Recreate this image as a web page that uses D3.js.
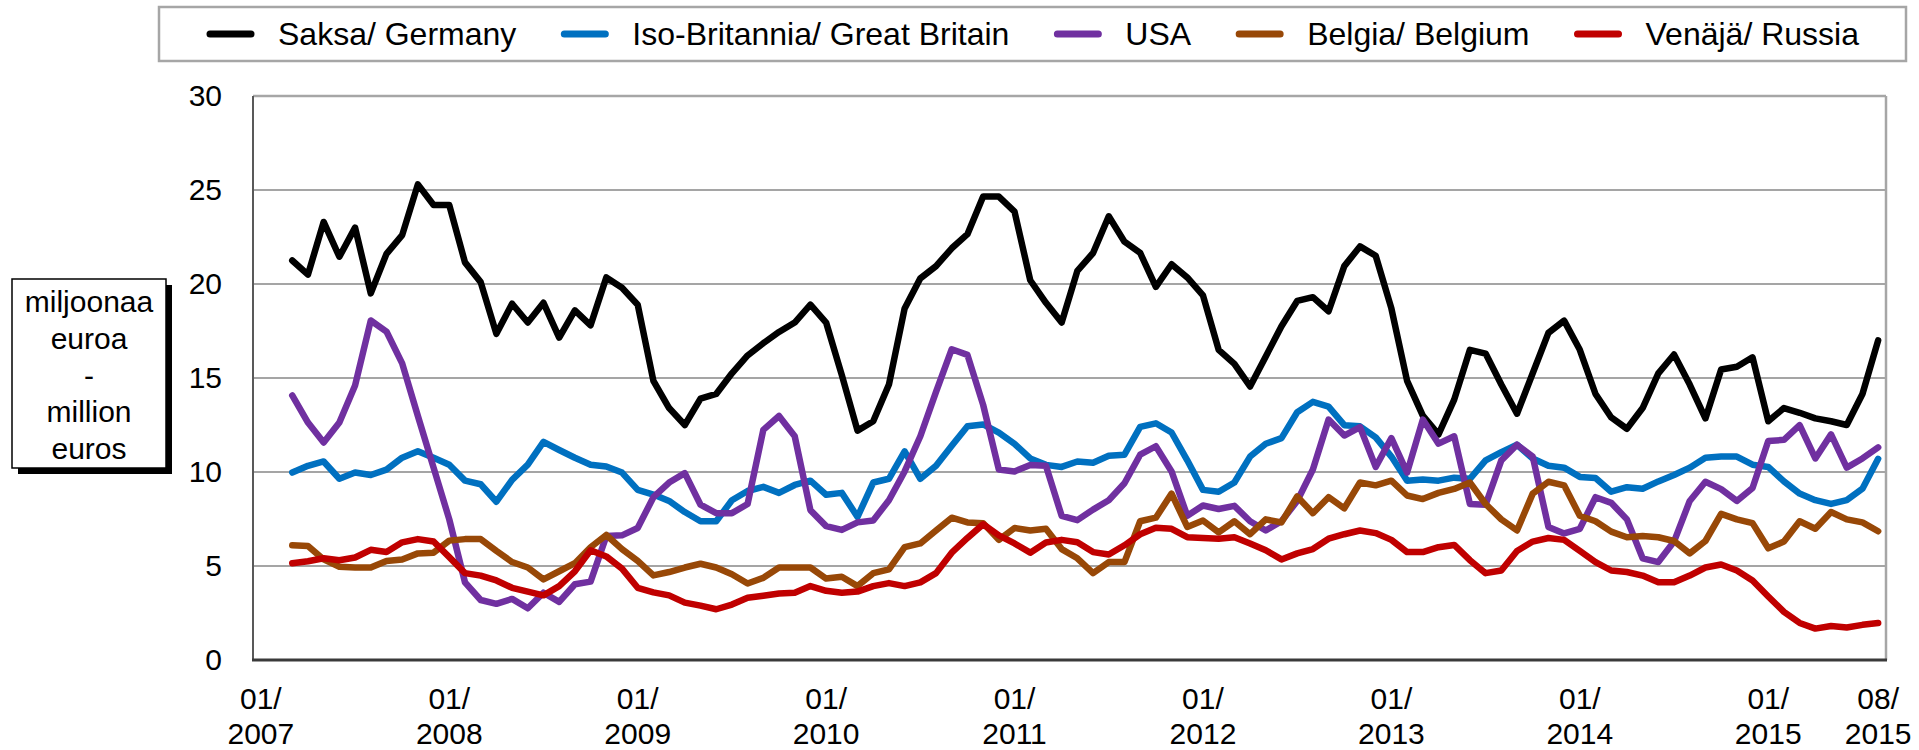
<!DOCTYPE html>
<html>
<head>
<meta charset="utf-8">
<script src="https://cdn.jsdelivr.net/npm/d3@7"></script>
<style>
  body { margin: 0; background: #fff; }
  svg text { font-family: Arial, "Liberation Sans", sans-serif; fill: #000; }
</style>
</head>
<body>
<svg id="chart" width="1919" height="750"></svg>
<script>
// monthly categories 01/2007 .. 08/2015, data begins 03/2007
const firstYear = 2007;
const lastYear = 2015;
const lastMonth = 8;
const seriesStart = "03/2007";

const xTickLabels = ["01/2007", "01/2008", "01/2009", "01/2010", "01/2011",
  "01/2012", "01/2013", "01/2014", "01/2015", "08/2015"];
const yTicks = [0, 5, 10, 15, 20, 25, 30];
const yLabelLines = ["miljoonaa", "euroa", "-", "million", "euros"];

const seriesNames = ["Saksa/ Germany", "Iso-Britannia/ Great Britain", "USA",
  "Belgia/ Belgium", "Venäjä/ Russia"];
const seriesColors = ["#000000", "#0070C0", "#7030A0", "#984807", "#C00000"];

const germany = [21.25, 20.5, 23.3, 21.45, 23.0, 19.5, 21.6, 22.6, 25.3, 24.2,
  24.2, 21.15, 20.1, 17.35, 18.95, 17.95, 19.0, 17.15, 18.6, 17.8,
  20.35, 19.8, 18.9, 14.85, 13.4, 12.5, 13.9, 14.15, 15.25, 16.2,
  16.85, 17.45, 17.95, 18.9, 17.95, 15.15, 12.2, 12.7, 14.65, 18.7,
  20.3, 20.95, 21.9, 22.65, 24.65, 24.65, 23.85, 20.2, 19.0, 17.95,
  20.7, 21.65, 23.6, 22.25, 21.65, 19.85, 21.05, 20.35, 19.4, 16.5,
  15.75, 14.55, 16.15, 17.75, 19.1, 19.3, 18.55, 20.95, 22.0, 21.5,
  18.7, 14.85, 13.0, 12.0, 13.85, 16.5, 16.3, 14.65, 13.1, 15.25,
  17.4, 18.05, 16.5, 14.15, 12.9, 12.3, 13.4, 15.25, 16.25, 14.65,
  12.85, 15.45, 15.6, 16.1, 12.7, 13.4, 13.15, 12.85, 12.7, 12.5,
  14.15, 17.0];

const britain = [9.97, 10.33, 10.56, 9.64, 9.97, 9.84, 10.13, 10.76, 11.1, 10.76,
  10.39, 9.54, 9.35, 8.42, 9.58, 10.39, 11.6, 11.17, 10.76, 10.39,
  10.29, 9.97, 9.05, 8.8, 8.46, 7.87, 7.38, 7.38, 8.5, 8.99,
  9.21, 8.89, 9.31, 9.54, 8.79, 8.89, 7.61, 9.44, 9.64, 11.1,
  9.64, 10.33, 11.4, 12.43, 12.53, 12.1, 11.5, 10.72, 10.38, 10.27,
  10.56, 10.49, 10.86, 10.92, 12.4, 12.59, 12.1, 10.62, 9.05, 8.95,
  9.44, 10.82, 11.5, 11.8, 13.18, 13.73, 13.48, 12.49, 12.43, 11.84,
  10.82, 9.54, 9.6, 9.54, 9.7, 9.64, 10.62, 11.06, 11.45, 10.72,
  10.33, 10.23, 9.74, 9.68, 8.95, 9.19, 9.11, 9.5, 9.84, 10.23,
  10.76, 10.82, 10.82, 10.39, 10.27, 9.5, 8.85, 8.5, 8.3, 8.5,
  9.11, 10.7];

const usa = [14.07, 12.63, 11.57, 12.63, 14.6, 18.06, 17.47, 15.78, 12.98, 10.23,
  7.48, 4.13, 3.19, 2.99, 3.25, 2.75, 3.58, 3.09, 4.03, 4.17,
  6.59, 6.63, 7.02, 8.66, 9.44, 9.94, 8.26, 7.81, 7.81, 8.3,
  12.24, 12.98, 11.9, 7.97, 7.12, 6.92, 7.32, 7.42, 8.5, 10.03,
  11.9, 14.26, 16.53, 16.23, 13.57, 10.13, 10.03, 10.37, 10.33, 7.67,
  7.44, 8.0, 8.5, 9.4, 10.92, 11.37, 10.03, 7.67, 8.22, 8.03,
  8.2, 7.38, 6.89, 7.38, 8.46, 10.13, 12.79, 11.94, 12.39, 10.27,
  11.8, 9.97, 12.79, 11.51, 11.9, 8.3, 8.26, 10.62, 11.45, 10.82,
  7.08, 6.73, 6.98, 8.66, 8.36, 7.48, 5.41, 5.21, 6.3, 8.46,
  9.48, 9.09, 8.46, 9.15, 11.65, 11.71, 12.49, 10.72, 12.0, 10.23,
  10.72, 11.31];

const belgium = [6.1, 6.06, 5.35, 4.96, 4.92, 4.92, 5.27, 5.35, 5.67, 5.71,
  6.35, 6.43, 6.43, 5.8, 5.21, 4.92, 4.29, 4.72, 5.15, 6.0,
  6.65, 5.9, 5.27, 4.5, 4.68, 4.92, 5.12, 4.92, 4.56, 4.07,
  4.37, 4.92, 4.92, 4.92, 4.33, 4.43, 3.93, 4.62, 4.82, 6.0,
  6.2, 6.89, 7.57, 7.32, 7.28, 6.39, 7.02, 6.89, 6.98, 5.9,
  5.41, 4.62, 5.21, 5.21, 7.38, 7.57, 8.85, 7.08, 7.42, 6.79,
  7.38, 6.69, 7.48, 7.32, 8.7, 7.81, 8.66, 8.07, 9.44, 9.29,
  9.54, 8.75, 8.56, 8.89, 9.1, 9.44, 8.3, 7.48, 6.89, 8.85,
  9.48, 9.29, 7.67, 7.38, 6.83, 6.53, 6.59, 6.53, 6.33, 5.67,
  6.33, 7.77, 7.48, 7.28, 5.94, 6.3, 7.38, 6.98, 7.87, 7.48,
  7.32, 6.85];

const russia = [5.15, 5.25, 5.41, 5.31, 5.45, 5.86, 5.74, 6.26, 6.43, 6.3,
  5.47, 4.62, 4.49, 4.23, 3.84, 3.64, 3.44, 3.93, 4.72, 5.84,
  5.51, 4.86, 3.84, 3.6, 3.44, 3.05, 2.89, 2.7, 2.95, 3.31,
  3.42, 3.54, 3.58, 3.93, 3.68, 3.58, 3.64, 3.93, 4.09, 3.93,
  4.13, 4.62, 5.71, 6.49, 7.22, 6.63, 6.2, 5.71, 6.25, 6.39,
  6.26, 5.74, 5.61, 6.1, 6.69, 7.04, 6.98, 6.53, 6.49, 6.45,
  6.53, 6.2, 5.84, 5.35, 5.67, 5.9, 6.45, 6.69, 6.89, 6.75,
  6.39, 5.74, 5.74, 6.0, 6.12, 5.31, 4.62, 4.76, 5.8, 6.3,
  6.49, 6.39, 5.8, 5.21, 4.76, 4.68, 4.49, 4.13, 4.13, 4.49,
  4.92, 5.08, 4.76, 4.23, 3.38, 2.56, 1.97, 1.67, 1.81, 1.73,
  1.87, 1.97];

const seriesValues = [germany, britain, usa, belgium, russia];

function monthly_categories() {
  let out = [];
  for (let yr = firstYear; yr <= lastYear; yr++) {
    for (let m = 1; m <= 12; m++) {
      if (yr === lastYear && m > lastMonth) break;
      out.push(String(m).padStart(2, "0") + "/" + yr);
    }
  }
  return out;
}

function line_chart(svg) {
  let months = monthly_categories();
  let left = 253, right = 1886, top = 96, bottom = 660;

  let xScale = d3.scaleBand().domain(months).range([left, right]).padding(0);
  let yScale = d3.scaleLinear().domain([0, 30]).range([bottom, top]);
  let half = xScale.bandwidth() / 2;
  let startIdx = months.indexOf(seriesStart);

  // grid lines
  svg.append("g")
    .selectAll("line")
    .data(yTicks.filter(d => d > 0))
    .enter()
    .append("line")
    .attr("x1", left)
    .attr("x2", right)
    .attr("y1", d => yScale(d))
    .attr("y2", d => yScale(d))
    .attr("stroke", d => d === 30 ? "#a6a6a6" : "#878787")
    .attr("stroke-width", d => d === 30 ? 2.5 : 1.5);

  // frame
  svg.append("line")
    .attr("x1", right).attr("x2", right)
    .attr("y1", top).attr("y2", bottom)
    .attr("stroke", "#a6a6a6").attr("stroke-width", 2.5);
  svg.append("line")
    .attr("x1", left).attr("x2", left)
    .attr("y1", top).attr("y2", bottom)
    .attr("stroke", "#595959").attr("stroke-width", 2);

  // Y axis labels
  let y_axis = d3.axisLeft(yScale).tickValues(yTicks).tickSize(0).tickPadding(0);
  let yg = svg.append("g")
    .attr("transform", `translate(${222},0)`)
    .call(y_axis);
  yg.select(".domain").remove();
  yg.selectAll("text")
    .attr("font-size", 30)
    .attr("font-family", "Arial, 'Liberation Sans', sans-serif")
    .attr("fill", "#000");

  // lines
  let line = d3.line()
    .defined(d => d != null)
    .x((d, i) => xScale(months[startIdx + i]) + half)
    .y(d => yScale(d));

  seriesValues.forEach(function (vals, s) {
    svg.append("path")
      .datum(vals)
      .attr("fill", "none")
      .attr("stroke", seriesColors[s])
      .attr("stroke-width", 6.5)
      .attr("stroke-linejoin", "round")
      .attr("stroke-linecap", "round")
      .attr("d", line);
  });

  // X axis
  svg.append("line")
    .attr("x1", left - 1).attr("x2", right + 1)
    .attr("y1", bottom).attr("y2", bottom)
    .attr("stroke", "#3a3a3a").attr("stroke-width", 3);

  let xt = svg.append("g")
    .selectAll("text")
    .data(xTickLabels)
    .enter()
    .append("text")
    .attr("text-anchor", "middle")
    .attr("font-size", 30)
    .attr("transform", d => `translate(${xScale(d) + half},0)`);
  xt.append("tspan").attr("x", 0).attr("y", 709).text(d => d.split("/")[0] + "/");
  xt.append("tspan").attr("x", 0).attr("y", 744).text(d => d.split("/")[1]);

  // Y label box with shadow
  let lb = svg.append("g").attr("transform", `translate(${12},${279})`);
  lb.append("rect")
    .attr("x", 6).attr("y", 6)
    .attr("width", 154).attr("height", 189)
    .attr("fill", "#000");
  lb.append("rect")
    .attr("width", 154).attr("height", 189)
    .attr("fill", "#fff")
    .attr("stroke", "#000").attr("stroke-width", 1.5);
  lb.selectAll("text")
    .data(yLabelLines)
    .enter()
    .append("text")
    .attr("x", 77)
    .attr("y", (d, i) => 33 + i * 36.8)
    .attr("text-anchor", "middle")
    .attr("font-size", 30)
    .text(d => d);

  // Legend
  let lg = svg.append("g");
  lg.append("rect")
    .attr("x", 159).attr("y", 7)
    .attr("width", 1747).attr("height", 54)
    .attr("fill", "#fff")
    .attr("stroke", "#a6a6a6").attr("stroke-width", 2.5);
  let xpos = 210;
  seriesNames.forEach(function (d, i) {
    lg.append("line")
      .attr("x1", xpos).attr("x2", xpos + 41)
      .attr("y1", 34).attr("y2", 34)
      .attr("stroke", seriesColors[i])
      .attr("stroke-width", 7)
      .attr("stroke-linecap", "round");
    let t = lg.append("text")
      .attr("x", xpos + 68)
      .attr("y", 45)
      .attr("font-size", 32)
      .text(d);
    xpos = xpos + 68 + t.node().getComputedTextLength() + 48;
  });
}

line_chart(d3.select("#chart"));
</script>
</body>
</html>
